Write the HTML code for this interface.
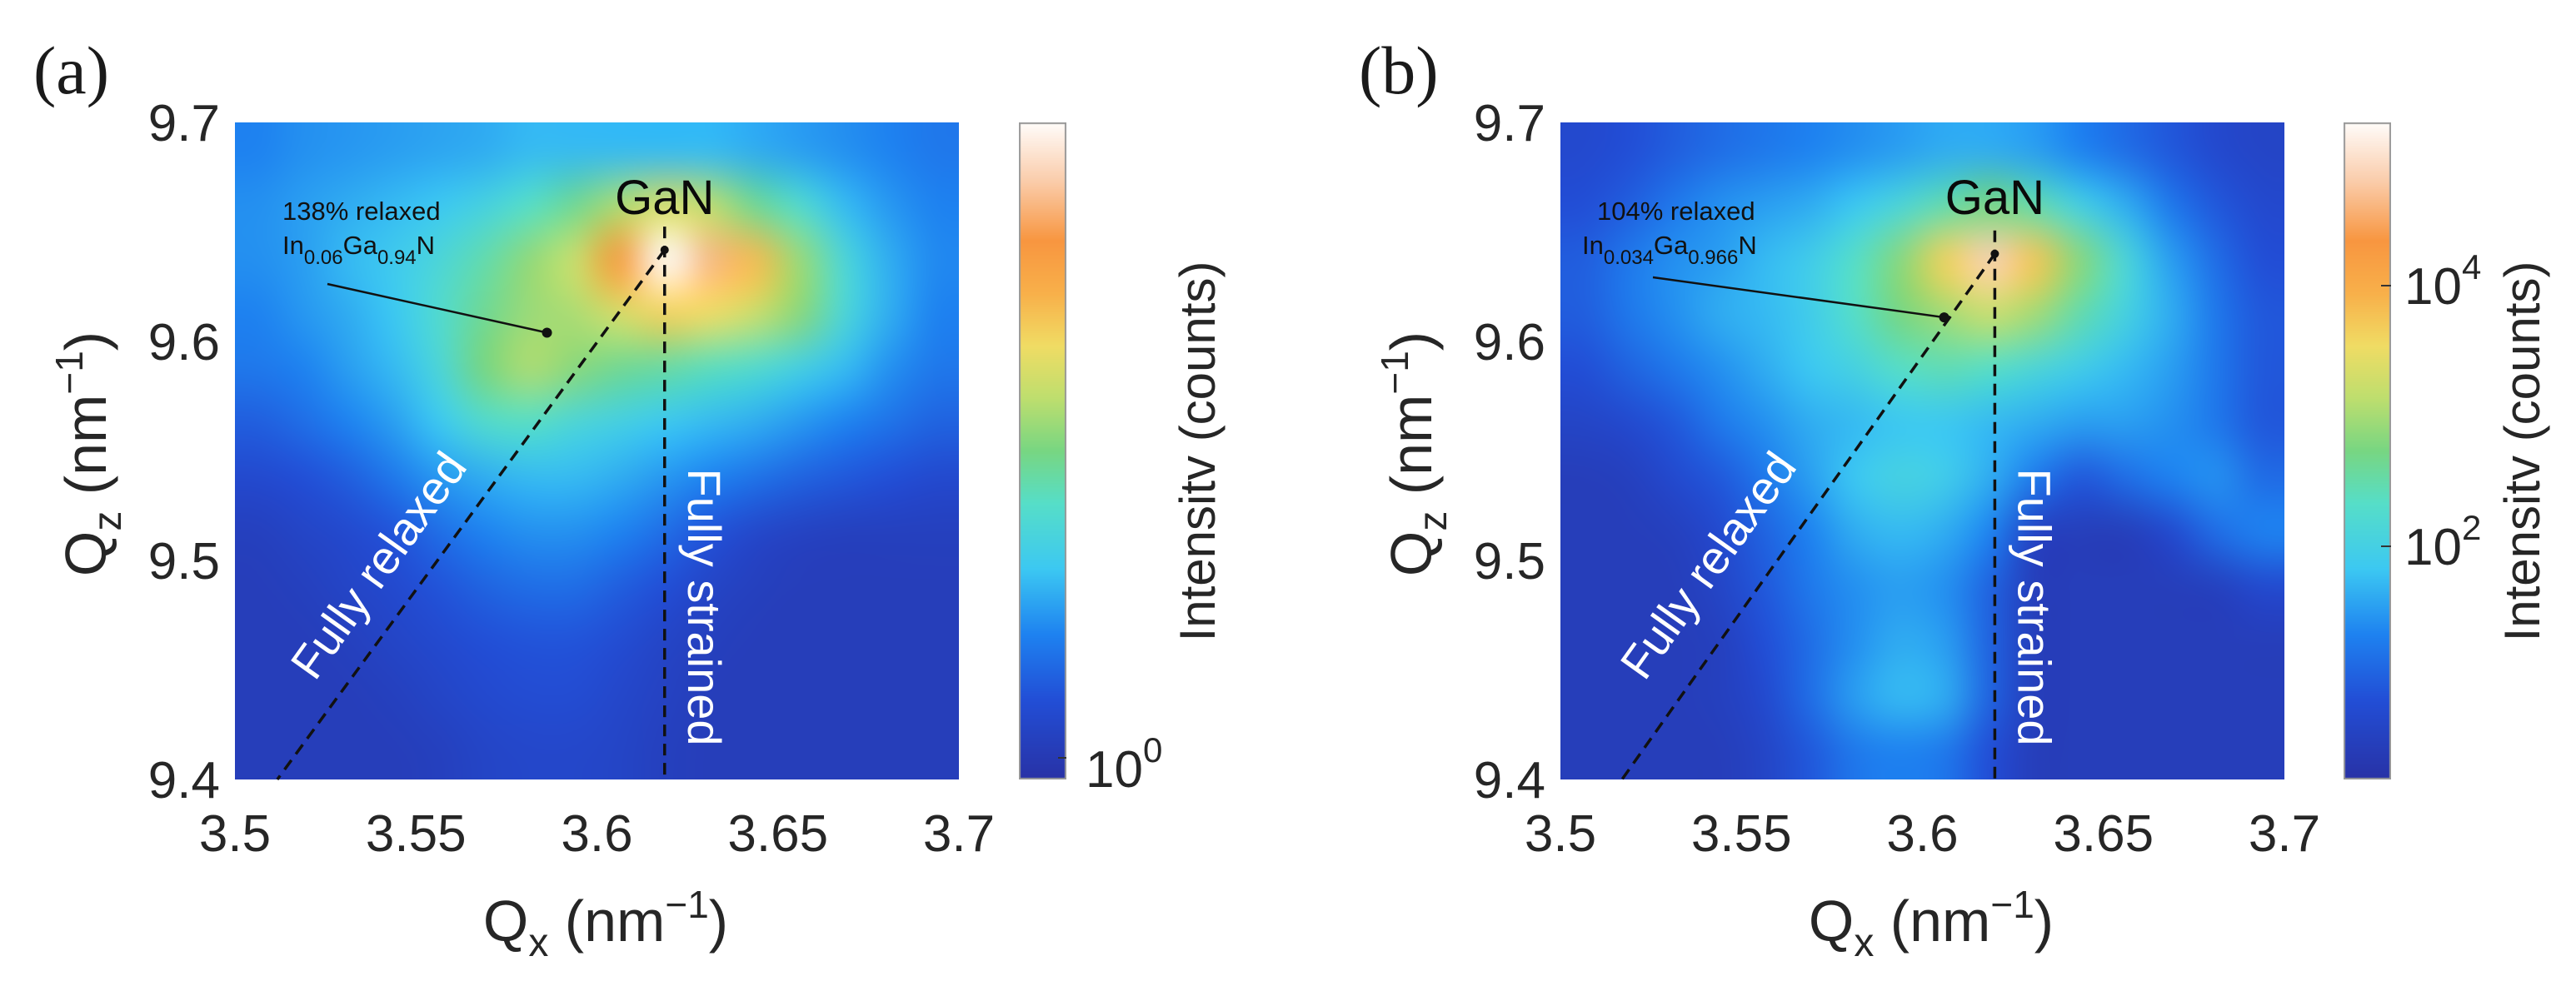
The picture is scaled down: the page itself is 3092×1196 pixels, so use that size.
<!DOCTYPE html>
<html><head><meta charset="utf-8">
<style>
html,body{margin:0;padding:0;background:#fff;}
#root{position:relative;width:3092px;height:1196px;overflow:hidden;background:#fff;font-family:"Liberation Sans",sans-serif;}
canvas{position:absolute;}
svg{position:absolute;left:0;top:0;}
</style></head>
<body>
<div id="root">
<canvas id="mapA" style="left:282px;top:147px;width:869px;height:789px" width="869" height="789"></canvas>
<canvas id="mapB" style="left:1873px;top:147px;width:869px;height:789px" width="869" height="789"></canvas>
<canvas id="cbA" style="left:1223px;top:147px;width:57px;height:789px" width="57" height="789"></canvas>
<canvas id="cbB" style="left:2813px;top:147px;width:57px;height:789px" width="57" height="789"></canvas>
<svg id="ov" width="3092" height="1196"></svg>
</div>
<script>
// ---- data ----
const qxTicks = [3.5, 3.55, 3.6, 3.65, 3.7];
const qxTickLabels = ["3.5", "3.55", "3.6", "3.65", "3.7"];
const qzTicks = [9.7, 9.6, 9.5, 9.4];
const qzTickLabels = ["9.7", "9.6", "9.5", "9.4"];
const gridA = [
[0.22,0.24,0.25,0.26,0.27,0.28,0.30,0.30,0.30,0.30,0.30,0.28,0.26,0.24,0.22,0.20],
[0.24,0.26,0.28,0.30,0.32,0.36,0.42,0.48,0.56,0.62,0.58,0.48,0.40,0.30,0.25,0.22],
[0.24,0.26,0.30,0.33,0.38,0.45,0.53,0.60,0.80,1.00,0.88,0.72,0.54,0.38,0.28,0.23],
[0.22,0.25,0.28,0.32,0.40,0.48,0.54,0.56,0.62,0.68,0.66,0.60,0.52,0.38,0.28,0.22],
[0.20,0.22,0.26,0.30,0.38,0.50,0.56,0.52,0.48,0.46,0.43,0.40,0.35,0.30,0.24,0.20],
[0.15,0.18,0.22,0.26,0.32,0.40,0.42,0.38,0.35,0.32,0.30,0.28,0.25,0.22,0.19,0.16],
[0.10,0.12,0.15,0.20,0.25,0.28,0.30,0.30,0.28,0.25,0.22,0.19,0.16,0.14,0.12,0.10],
[0.06,0.08,0.10,0.13,0.18,0.22,0.24,0.24,0.22,0.18,0.13,0.09,0.07,0.06,0.06,0.06],
[0.05,0.06,0.08,0.10,0.13,0.16,0.18,0.18,0.15,0.12,0.08,0.06,0.05,0.05,0.05,0.05],
[0.05,0.05,0.06,0.08,0.10,0.12,0.13,0.13,0.11,0.08,0.06,0.05,0.05,0.05,0.05,0.05],
[0.05,0.05,0.05,0.06,0.08,0.10,0.11,0.11,0.09,0.07,0.05,0.05,0.05,0.05,0.05,0.05],
[0.05,0.05,0.05,0.05,0.06,0.08,0.09,0.09,0.08,0.06,0.05,0.05,0.05,0.05,0.05,0.05]];
const gridB = [
[0.10,0.12,0.15,0.18,0.20,0.22,0.24,0.26,0.28,0.28,0.26,0.22,0.18,0.14,0.10,0.08],
[0.12,0.15,0.20,0.24,0.26,0.28,0.32,0.38,0.45,0.50,0.45,0.35,0.28,0.20,0.14,0.10],
[0.15,0.20,0.24,0.26,0.30,0.34,0.42,0.52,0.68,0.92,0.70,0.52,0.38,0.26,0.18,0.12],
[0.15,0.20,0.24,0.28,0.30,0.34,0.42,0.50,0.55,0.60,0.55,0.45,0.36,0.28,0.20,0.14],
[0.12,0.16,0.20,0.24,0.28,0.32,0.36,0.42,0.44,0.42,0.38,0.34,0.30,0.26,0.20,0.14],
[0.08,0.10,0.14,0.20,0.24,0.28,0.30,0.32,0.32,0.30,0.28,0.26,0.26,0.24,0.20,0.14],
[0.05,0.06,0.10,0.14,0.20,0.26,0.32,0.36,0.34,0.28,0.20,0.14,0.18,0.22,0.24,0.18],
[0.05,0.05,0.06,0.10,0.16,0.22,0.28,0.30,0.28,0.22,0.07,0.05,0.05,0.10,0.18,0.22],
[0.05,0.05,0.05,0.08,0.14,0.20,0.24,0.26,0.24,0.16,0.05,0.05,0.05,0.05,0.06,0.10],
[0.05,0.05,0.05,0.06,0.12,0.18,0.24,0.28,0.26,0.16,0.05,0.05,0.05,0.05,0.05,0.05],
[0.05,0.05,0.05,0.06,0.10,0.18,0.26,0.30,0.28,0.16,0.05,0.05,0.05,0.05,0.05,0.05],
[0.05,0.05,0.05,0.05,0.08,0.14,0.20,0.22,0.20,0.12,0.05,0.05,0.05,0.05,0.05,0.05]];
const peakA = [3.6187, 9.6418];
const pointA = [3.5862, 9.6040];
const relaxBottomA = [3.5117, 9.4];
const peakB = [3.6200, 9.6400];
const pointB = [3.6060, 9.6110];
const relaxBottomB = [3.5170, 9.4];
const cbTicksB = [4, 2];

const cmap = [[0,[40,50,166]],[0.12,[34,78,214]],[0.22,[30,130,240]],[0.32,[60,200,242]],[0.42,[86,222,200]],[0.5,[120,214,130]],[0.58,[190,222,110]],[0.66,[240,220,100]],[0.74,[248,176,74]],[0.82,[248,150,64]],[0.91,[250,204,170]],[1,[255,252,250]]];
function col(v){v=Math.max(0,Math.min(1,v));for(let i=1;i<cmap.length;i++){if(v<=cmap[i][0]){const a=cmap[i-1],b=cmap[i];const t=(v-a[0])/(b[0]-a[0]);return a[1].map((c,k)=>Math.round(c+(b[1][k]-c)*t));}}return cmap[cmap.length-1][1];}

function drawMap(id,grid){
  const cv=document.getElementById(id),ctx=cv.getContext('2d');
  const rows=grid.length,cols=grid[0].length;
  const off=document.createElement('canvas');off.width=cols;off.height=rows;
  const oc=off.getContext('2d');const img=oc.createImageData(cols,rows);
  for(let r=0;r<rows;r++)for(let c=0;c<cols;c++){const p=col(grid[r][c]);const i=(r*cols+c)*4;img.data[i]=p[0];img.data[i+1]=p[1];img.data[i+2]=p[2];img.data[i+3]=255;}
  oc.putImageData(img,0,0);
  ctx.imageSmoothingEnabled=true;ctx.imageSmoothingQuality='high';
  ctx.drawImage(off,0,0,cols,rows,0,0,cv.width,cv.height);
}
function drawCb(id){
  const cv=document.getElementById(id),ctx=cv.getContext('2d');
  for(let y=0;y<cv.height;y++){const p=col(1-y/(cv.height-1));ctx.fillStyle=`rgb(${p[0]},${p[1]},${p[2]})`;ctx.fillRect(0,y,cv.width,1);}
  ctx.strokeStyle='#999';ctx.lineWidth=2;ctx.strokeRect(1,1,cv.width-2,cv.height-2);
}
drawMap('mapA',gridA);drawMap('mapB',gridB);drawCb('cbA');drawCb('cbB');

const NS='http://www.w3.org/2000/svg';const svg=document.getElementById('ov');
function el(tag,attrs,text){const e=document.createElementNS(NS,tag);for(const k in attrs)e.setAttribute(k,attrs[k]);if(text!==undefined)e.textContent=text;svg.appendChild(e);return e;}

function panel(p){
  const L=p.left,T=147,W=869,H=789;
  const X=q=>L+(q-3.5)/0.2*W, Y=q=>T+(9.7-q)/0.3*H;
  qxTicks.forEach((t,i)=>{
    const e=el('text',{x:X(t),y:1022,'font-size':62,'text-anchor':'middle',fill:'#262626'},qxTickLabels[i]);
    
  });
  qzTicks.forEach((t,i)=>{
    const e=el('text',{x:L-18,y:Y(t)+22,'font-size':62,'text-anchor':'end',fill:'#262626'},qzTickLabels[i]);
    
  });
  const xt=el('text',{x:L+445,y:1130,'font-size':70,'text-anchor':'middle',fill:'#262626'});
  
  xt.innerHTML='Q<tspan font-size="48" dy="18">x</tspan><tspan dy="-18"> (nm</tspan><tspan font-size="46" dy="-28">−1</tspan><tspan dy="28">)</tspan>';
  const yt=el('text',{x:0,y:0,'font-size':70,'text-anchor':'middle',fill:'#262626',transform:`translate(${L-155},545) rotate(-90)`});
  
  yt.innerHTML='Q<tspan font-size="48" dy="18">z</tspan><tspan dy="-18"> (nm</tspan><tspan font-size="46" dy="-28">−1</tspan><tspan dy="28">)</tspan>';
  const pl=el('text',{x:L-242,y:112,'font-size':82,'font-family':'Liberation Serif, serif',fill:'#1a1a1a'},p.label);
  
  const [gx,gy]=[X(p.peak[0]),Y(p.peak[1])];
  const vs=el('line',{x1:gx,y1:gy-28,x2:gx,y2:T+H,stroke:'#111','stroke-width':3.5,'stroke-dasharray':'14 9'});
  
  const rl=el('line',{x1:gx,y1:gy,x2:X(p.relax[0]),y2:Y(p.relax[1]),stroke:'#111','stroke-width':3.5,'stroke-dasharray':'14 9'});
  
  const gd=el('circle',{cx:gx,cy:gy,r:5,fill:'#111'});
  
  const [px,py]=[X(p.point[0]),Y(p.point[1])];
  const ar=el('line',{x1:p.arrowFrom[0],y1:p.arrowFrom[1],x2:px,y2:py,stroke:'#111','stroke-width':2.5});
  
  const pd=el('circle',{cx:px,cy:py,r:6,fill:'#111'});
  
  const gt=el('text',{x:gx,y:257,'font-size':58,'text-anchor':'middle',fill:'#0a0a0a'},'GaN');
  
  const a1=el('text',{x:p.annX,y:264,'font-size':31,fill:'#111'},p.relaxText);
  
  const a2=el('text',{x:p.annX2,y:305,'font-size':31,fill:'#111'});
  
  a2.innerHTML=`In<tspan font-size="24" dy="12">${p.inX}</tspan><tspan dy="-12">Ga</tspan><tspan font-size="24" dy="12">${p.gaX}</tspan><tspan dy="-12">N</tspan>`;
  const fr=el('text',{x:0,y:0,'font-size':56,'text-anchor':'middle',fill:'#ffffff',transform:`translate(${p.frPos[0]},${p.frPos[1]}) rotate(-54.5)`},'Fully relaxed');
  
  const fs=el('text',{x:0,y:0,'font-size':56,'text-anchor':'middle',fill:'#ffffff',transform:`translate(${gx+28},729) rotate(90)`},'Fully strained');
  
  const ct=el('text',{x:0,y:0,'font-size':60,'text-anchor':'middle',fill:'#262626',transform:`translate(${p.cbx+235},542) rotate(-90)`},'Intensitv (counts)');
  
}
panel({left:282,label:'(a)',peak:peakA,point:pointA,relax:relaxBottomA,arrowFrom:[393,341],annX:339,annX2:339,relaxText:'138% relaxed',inX:'0.06',gaX:'0.94',frPos:[470,690],cbx:1223});
panel({left:1873,label:'(b)',peak:peakB,point:pointB,relax:relaxBottomB,arrowFrom:[1984,333],annX:1917,annX2:1899,relaxText:'104% relaxed',inX:'0.034',gaX:'0.966',frPos:[2066,690],cbx:2813});

const t0=el('text',{x:1303,y:945,'font-size':62,fill:'#262626'});

t0.innerHTML='10<tspan font-size="42" dy="-30">0</tspan>';
const m0=el('line',{x1:1270,y1:910,x2:1280,y2:910,stroke:'#333','stroke-width':2});

const cbPx=e=>969-(e/2)*313;
cbTicksB.forEach(e=>{
  const t=el('text',{x:2886,y:cbPx(e)+22,'font-size':62,fill:'#262626'});
  
  t.innerHTML='10<tspan font-size="42" dy="-30">'+e+'</tspan>';
  const m=el('line',{x1:2858,y1:cbPx(e),x2:2870,y2:cbPx(e),stroke:'#333','stroke-width':2});
  
});
</script>
</body></html>
